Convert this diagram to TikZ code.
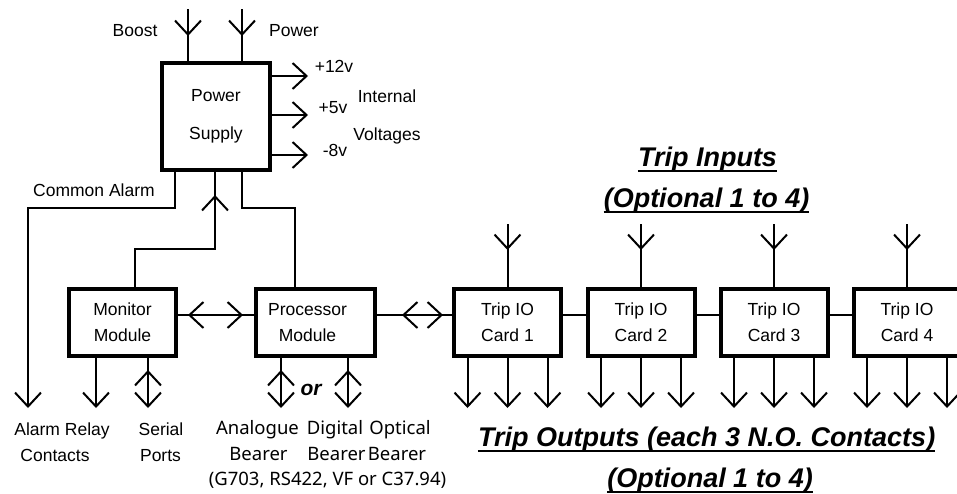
\documentclass[tikz,border=0pt]{standalone}
\usepackage{fontspec}
\setmainfont{Liberation Sans}
\newfontfamily\bearerfont{Noto Sans}
\usetikzlibrary{arrows.meta,decorations.markings}

\begin{document}
\begin{tikzpicture}[x=1pt,y=-1pt,
  conn/.style={line width=2pt},
  >={Straight Barb[length=14pt,width=26pt]},
  tipat/.style={postaction={decorate,decoration={markings,mark=at position #1 with {\arrow{>}}}}},
  revtipat/.style={postaction={decorate,decoration={markings,mark=at position #1 with {\arrowreversed{>}}}}},
  box/.style={draw,line width=4pt,rectangle,inner sep=0pt,align=center,
    font=\fontsize{17.5}{26}\selectfont},
  boxtext/.style={inner sep=0pt,align=center,font=\fontsize{17.5}{26}\selectfont},
  lbl/.style={inner sep=0pt,anchor=base,font=\fontsize{17.5}{21}\selectfont},
  blbl/.style={inner sep=0pt,anchor=base,font=\bearerfont\fontsize{18.5}{22}\selectfont},
  title/.style={inner sep=0pt,anchor=base,font=\fontsize{27}{31}\selectfont\bfseries\itshape},
  uline/.style={line width=2pt},
  card/.style={box,minimum width=107pt,minimum height=67pt}
]
\path[fill=white,use as bounding box] (0,0) rectangle (957,493);

% ---------- blocks ----------
\node[box,minimum width=108pt,minimum height=107pt,
      font=\fontsize{17.5}{37.5}\selectfont] (ps) at (216,116.5) {Power\\Supply};
\node[box,minimum width=107pt,minimum height=67pt] (mon) at (122.5,322.5) {Monitor\\Module};
\node[box,minimum width=119pt,minimum height=67pt] (proc) at (315.5,322.5) {};
\node[boxtext] (proctext) at ([xshift=-8pt]proc.center) {Processor\\Module};
\foreach \i/\x in {1/507.5,2/641,3/774,4/907}{
  \node[card] (c\i) at (\x,322.5) {Trip IO\\Card \i};
}

% ---------- supply inputs and outputs ----------
\coordinate (boostsrc) at (188,9);
\coordinate (powersrc) at (242,9);
\draw[conn,tipat=27pt] (boostsrc) -- (boostsrc |- ps.north);
\draw[conn,tipat=27pt] (powersrc) -- (powersrc |- ps.north);

\coordinate (v12) at (308,76);
\coordinate (v5) at (308,115);
\coordinate (v8) at (308,155);
\draw[conn,->] (v12 -| ps.east) -- (v12);
\draw[conn,->] (v5 -| ps.east) -- (v5);
\draw[conn,->] (v8 -| ps.east) -- (v8);

% ---------- alarm and module feeds ----------
\coordinate (alarmend) at (28,408);
\draw[conn,->] ([xshift=-41pt]ps.south) -- ++(0,36) -| (alarmend);
\draw[conn,tipat=-23pt] ([xshift=12.5pt]mon.north) -- ++(0,-38) -| ([xshift=-1pt]ps.south);
\draw[conn] ([xshift=26pt]ps.south) -- ++(0,36) -| ([xshift=-20.5pt]proc.north);

% ---------- horizontal links ----------
\draw[conn,revtipat=10pt,tipat=-11pt] ([yshift=7.5pt]mon.east) -- ([yshift=7.5pt]proc.west);
\draw[conn,revtipat=25pt,tipat=-9pt] ([yshift=7.5pt]proc.east) -- ([yshift=7.5pt]c1.west);
\draw[conn] ([yshift=7.5pt]c1.east) -- ([yshift=7.5pt]c2.west);
\draw[conn] ([yshift=7.5pt]c2.east) -- ([yshift=7.5pt]c3.west);
\draw[conn] ([yshift=7.5pt]c3.east) -- ([yshift=7.5pt]c4.west);

% ---------- module outputs ----------
\coordinate (relayend) at (96,408);
\coordinate (serialend) at (148,408);
\coordinate (anaend) at (281,408);
\coordinate (digend) at (348,408);
\draw[conn,->] (relayend |- mon.south) -- (relayend);
\draw[conn,->,revtipat=12pt] (serialend |- mon.south) -- (serialend);
\draw[conn,->,revtipat=12pt] (anaend |- proc.south) -- (anaend);
\draw[conn,->,revtipat=12pt] (digend |- proc.south) -- (digend);

% ---------- trip card inputs and outputs ----------
\foreach \i/\x in {1/507.5,2/641,3/774,4/907}{
  \coordinate (in\i) at (\x,224);
  \draw[conn,tipat=26pt] (in\i) -- (in\i |- c\i.north);
  \foreach \j/\o in {a/-40,b/0,c/40}{
    \coordinate (out\i\j) at ({\x+\o},408);
    \draw[conn,->] (out\i\j |- c\i.south) -- (out\i\j);
  }
}

% ---------- labels ----------
\node[lbl] (boostlbl) at (135,36) {Boost};
\node[lbl] (powerlbl) at (294,36) {Power};
\node[lbl] (v12lbl) at (334,72) {+12v};
\node[lbl] (v5lbl) at (333,113) {+5v};
\node[lbl] (v8lbl) at (335,156) {-8v};
\node[lbl] (intlbl) at (387,102.5) {Internal};
\node[lbl] (voltlbl) at (387,140) {Voltages};
\node[lbl] (alarmlbl) at (94,196) {Common Alarm};
\node[lbl] (relaylbl) at (62,435) {Alarm Relay};
\node[lbl] (contlbl) at (55,461) {Contacts};
\node[lbl] (seriallbl) at (161,435) {Serial};
\node[lbl] (portslbl) at (160.5,461) {Ports};
\node[inner sep=0pt,anchor=base,font=\fontsize{21}{24}\selectfont\bfseries\itshape] (orlbl) at (311,395) {or};

\node[blbl] (analbl) at (257.5,434) {Analogue};
\node[blbl] (diglbl) at (335,434) {Digital};
\node[blbl] (optlbl) at (400,434) {Optical};
\node[blbl] (bear1) at (258.5,460) {Bearer};
\node[blbl] (bear2) at (336.5,460) {Bearer};
\node[blbl] (bear3) at (397,460) {Bearer};
\node[blbl] (stdlbl) at (327.5,485) {(G703, RS422, VF or C37.94)};

% ---------- titles ----------
\node[title] (tin1) at (707.5,166.7) {Trip Inputs};
\node[title] (tin2) at (706.5,207.7) {(Optional 1 to 4)};
\node[title] (tout1) at (706.7,446.7) {Trip Outputs (each 3 N.O. Contacts)};
\node[title] (tout2) at (710,487) {(Optional 1 to 4)};
\foreach \t in {tin1,tin2,tout1,tout2}{
  \draw[uline] ([yshift=-4.5pt]\t.base west) -- ([yshift=-4.5pt]\t.base east);
}
\end{tikzpicture}
\end{document}
